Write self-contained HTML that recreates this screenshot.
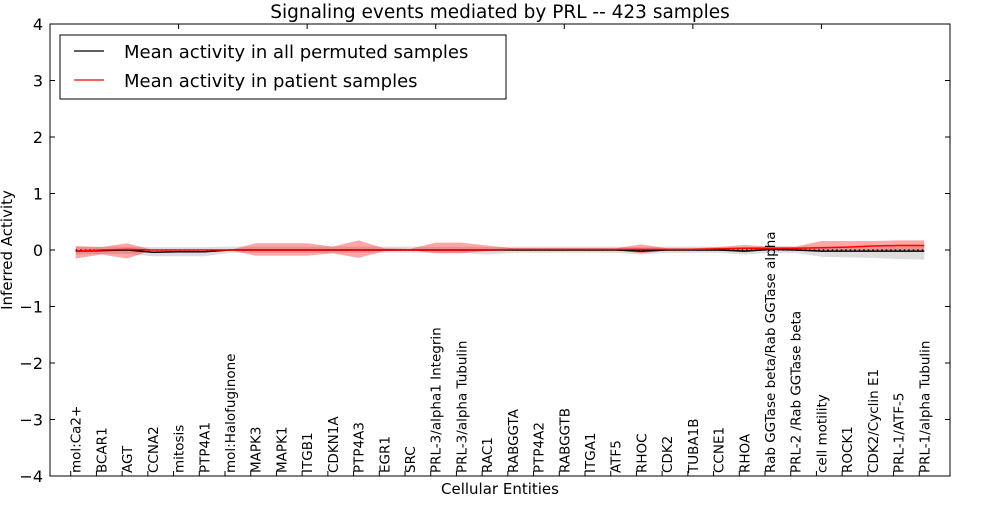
<!DOCTYPE html>
<html><head><meta charset="utf-8"><style>
body{margin:0;background:#fff;}
svg text{font-family:"DejaVu Sans","Liberation Sans",sans-serif;}
</style></head><body>
<svg id="chart" width="1000" height="500" xmlns="http://www.w3.org/2000/svg">
<text x="500" y="18" font-size="18.5" text-anchor="middle">Signaling events mediated by PRL -- 423 samples</text>
<g id="bands"></g>
<g id="lines"></g>
<g id="axes"></g>
<text x="500" y="494" font-size="15" text-anchor="middle">Cellular Entities</text>
<text x="0" y="0" font-size="15" text-anchor="middle" transform="translate(12,250) rotate(-90)">Inferred Activity</text>
<g>
<rect x="60" y="35" width="446" height="64" fill="#fff" stroke="#000" stroke-width="1"/>
<line x1="74" y1="51" x2="104" y2="51" stroke="#000" stroke-width="1.2"/>
<text x="124" y="58" font-size="18">Mean activity in all permuted samples</text>
<line x1="74" y1="80" x2="104" y2="80" stroke="#f00" stroke-width="1.2"/>
<text x="124" y="87" font-size="18">Mean activity in patient samples</text>
</g>
</svg>
<script>
const categories=["mol:Ca2+","BCAR1","AGT","CCNA2","mitosis","PTP4A1","mol:Halofuginone","MAPK3","MAPK1","ITGB1","CDKN1A","PTP4A3","EGR1","SRC","PRL-3/alpha1 Integrin","PRL-3/alpha Tubulin","RAC1","RABGGTA","PTP4A2","RABGGTB","ITGA1","ATF5","RHOC","CDK2","TUBA1B","CCNE1","RHOA","Rab GGTase beta/Rab GGTase alpha","PRL-2 /Rab GGTase beta","cell motility","ROCK1","CDK2/Cyclin E1","PRL-1/ATF-5","PRL-1/alpha Tubulin"];
const permMean=[-0.02,-0.01,0,-0.04,-0.03,-0.03,0,0,0,0,0,0,0,0,0,0,0,0,0,0,0,0,-0.02,0,0,0,-0.02,0.01,0,-0.02,-0.02,-0.02,-0.02,-0.02];
const permLo=[-0.08,-0.07,-0.07,-0.11,-0.11,-0.11,-0.05,-0.05,-0.05,-0.05,-0.05,-0.05,-0.05,-0.05,-0.05,-0.05,-0.08,-0.05,-0.05,-0.05,-0.05,-0.05,-0.08,-0.05,-0.05,-0.05,-0.08,-0.05,-0.05,-0.12,-0.13,-0.14,-0.16,-0.17];
const permHi=[0.05,0.06,0.06,0.05,0.05,0.05,0.06,0.06,0.06,0.06,0.06,0.06,0.06,0.06,0.06,0.06,0.05,0.06,0.06,0.06,0.06,0.06,0.05,0.06,0.06,0.06,0.05,0.06,0.06,0.06,0.06,0.06,0.06,0.07];
const patMean=[-0.02,0,0.01,0,0,0,0,0,0,0,0,0,0,0,0,0,0,0.01,0.01,0.01,0.01,0.01,0.01,0.01,0.01,0.02,0.03,0.03,0.03,0.04,0.05,0.07,0.08,0.08];
const patLo=[-0.15,-0.08,-0.15,0,0,0,0,-0.1,-0.1,-0.1,-0.06,-0.14,-0.02,0,-0.06,-0.06,-0.02,0,0,0,0,0,-0.06,0,0,0,-0.04,0,0,0,0,0,0,0];
const patHi=[0.07,0.05,0.12,0,0,0,0,0.12,0.12,0.12,0.06,0.17,0.03,0.02,0.13,0.13,0.08,0.03,0.03,0.03,0.03,0.03,0.1,0.03,0.03,0.05,0.09,0.06,0.06,0.16,0.16,0.16,0.17,0.17];
const yTicks=[4,3,2,1,0,-1,-2,-3,-4];
const NS="http://www.w3.org/2000/svg";
const L=50,R=950,T=24,B=476;
function xs(i){return L+(i+1)*(R-L)/35;}
function ys(v){return T+(4-v)*(B-T)/8;}
function mk(t,a,p){const e=document.createElementNS(NS,t);for(const k in a)e.setAttribute(k,a[k]);p.appendChild(e);return e;}
const bands=document.getElementById('bands'),lines=document.getElementById('lines'),axes=document.getElementById('axes');
function band(lo,hi){let d='';hi.forEach((v,i)=>d+=(i?'L':'M')+xs(i)+','+ys(v));for(let i=lo.length-1;i>=0;i--)d+='L'+xs(i)+','+ys(lo[i]);return d+'Z';}
const pb=mk('path',{d:band(permLo,permHi),fill:'#aaa','fill-opacity':0.4},bands);


const rb=mk('path',{d:band(patLo,patHi),fill:'#f00','fill-opacity':0.35},bands);


function line(arr){return arr.map((v,i)=>xs(i)+','+ys(v)).join(' ');}
const zl=mk('line',{x1:xs(0),x2:xs(33),y1:ys(0),y2:ys(0),stroke:'#000','stroke-dasharray':'1.5,3','stroke-width':1.3},lines);


const pl=mk('polyline',{points:line(permMean),fill:'none',stroke:'#000','stroke-width':1.5},lines);


const rl=mk('polyline',{points:line(patMean),fill:'none',stroke:'#f00','stroke-width':1.5},lines);


const fr=mk('rect',{x:L,y:T,width:R-L,height:B-T,fill:'none',stroke:'#000','stroke-width':1},axes);


yTicks.forEach(v=>{
 mk('line',{x1:L,x2:L+5,y1:ys(v),y2:ys(v),stroke:'#000'},axes);
 mk('line',{x1:R-5,x2:R,y1:ys(v),y2:ys(v),stroke:'#000'},axes);
 const t=mk('text',{x:L-7,y:ys(v)+6,'font-size':16,'text-anchor':'end'},axes);t.textContent=(v<0?'\u2212'+(-v):v);
 
 
});
for(let k=0;k<=35;k+=5){const x=L+k*(R-L)/35;mk('line',{x1:x,x2:x,y1:T,y2:T+5,stroke:'#000'},axes);}
categories.forEach((c,i)=>{
 const x=xs(i);
 mk('line',{x1:x-5,x2:x-5,y1:B-5,y2:B,stroke:'#000'},axes);
 const t=mk('text',{x:0,y:0,'font-size':13.5,transform:`translate(${x+5},${B-3}) rotate(-90)`},axes);
 t.textContent=c;
 
 
});
</script>
</body></html>
